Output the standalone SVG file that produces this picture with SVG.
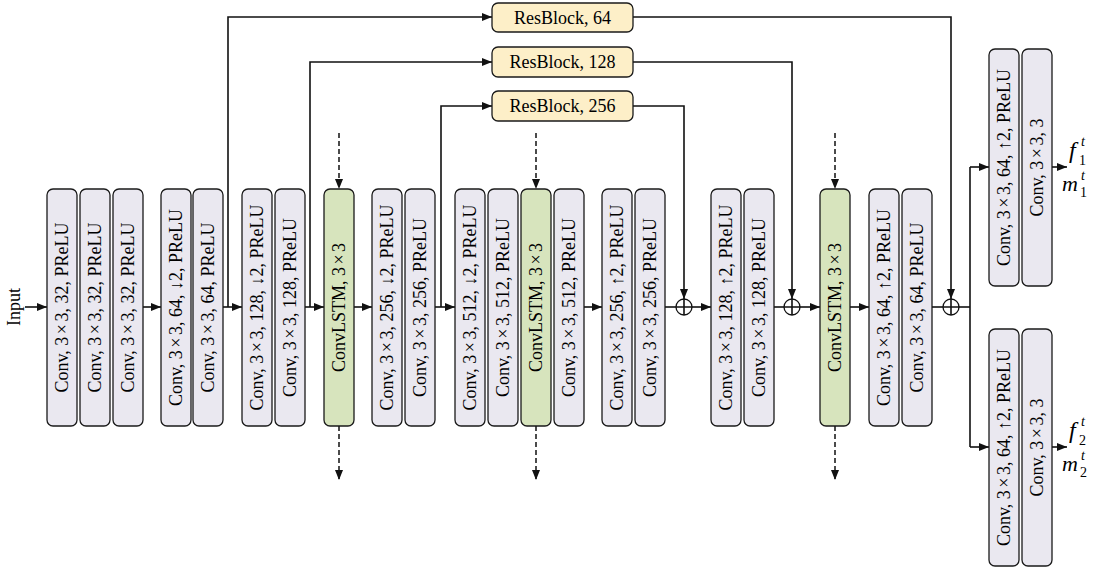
<svg xmlns="http://www.w3.org/2000/svg" width="1103" height="569" viewBox="0 0 1103 569">
<style>
.b{fill:#EAE8F0;stroke:#1a1a1a;stroke-width:1.3}
.g{fill:#D7E4BD;stroke:#1a1a1a;stroke-width:1.3}
.y{fill:#FDEFC8;stroke:#1a1a1a;stroke-width:1.3}
.t{font-family:"Liberation Serif","Times New Roman",serif;font-size:18px;fill:#000;text-anchor:middle}
.m{font-family:"Liberation Serif","Times New Roman",serif;fill:#000;font-style:italic}
.s{font-family:"Liberation Serif","Times New Roman",serif;fill:#000;font-size:14px}
.c{fill:none;stroke:#111;stroke-width:1.6}
.d{fill:none;stroke:#111;stroke-width:1.5;stroke-dasharray:5 3}
.p{fill:#fff;stroke:#111;stroke-width:1.3}
</style>
<defs>
<marker id="ah" viewBox="0 0 10 8" refX="10" refY="4" markerWidth="10" markerHeight="8" markerUnits="userSpaceOnUse" orient="auto">
<path d="M0,0 L10,4 L0,8 z" fill="#111"/>
</marker>
</defs>

<text class="t" transform="translate(20,307) rotate(-90)">Input</text>

<g id="connectors">
<path class="c" d="M25,307 H47" marker-end="url(#ah)"/>
<path class="c" d="M143,307 H161" marker-end="url(#ah)"/>
<path class="c" d="M223,307 H242" marker-end="url(#ah)"/>
<path class="c" d="M228,307 V17 H492" marker-end="url(#ah)"/>
<path class="c" d="M305,307 H324" marker-end="url(#ah)"/>
<path class="c" d="M310,307 V62 H492" marker-end="url(#ah)"/>
<path class="c" d="M354,307 H372" marker-end="url(#ah)"/>
<path class="c" d="M435,307 H455" marker-end="url(#ah)"/>
<path class="c" d="M441,307 V106 H492" marker-end="url(#ah)"/>
<path class="c" d="M584,307 H602" marker-end="url(#ah)"/>
<path class="c" d="M665,307 H676"/>
<path class="c" d="M633,106 H684 V299" marker-end="url(#ah)"/>
<path class="c" d="M692,307 H711" marker-end="url(#ah)"/>
<path class="c" d="M774,307 H784"/>
<path class="c" d="M633,62 H792 V299" marker-end="url(#ah)"/>
<path class="c" d="M800,307 H820" marker-end="url(#ah)"/>
<path class="c" d="M850,307 H869" marker-end="url(#ah)"/>
<path class="c" d="M932,307 H943"/>
<path class="c" d="M633,17 H951 V299" marker-end="url(#ah)"/>
<path class="c" d="M959,307 H970"/>
<path class="c" d="M970,167 V447"/>
<path class="c" d="M970,167 H989" marker-end="url(#ah)"/>
<path class="c" d="M970,447 H989" marker-end="url(#ah)"/>
<path class="c" d="M1052,167 H1067" marker-end="url(#ah)"/>
<path class="c" d="M1052,447 H1067" marker-end="url(#ah)"/>
<path class="d" d="M339,133 V189" marker-end="url(#ah)"/>
<path class="d" d="M339,426 V480" marker-end="url(#ah)"/>
<path class="d" d="M536,133 V189" marker-end="url(#ah)"/>
<path class="d" d="M536,426 V480" marker-end="url(#ah)"/>
<path class="d" d="M835,133 V189" marker-end="url(#ah)"/>
<path class="d" d="M835,426 V480" marker-end="url(#ah)"/>
</g>

<g id="plus1"><circle class="p" cx="684" cy="307" r="8"/><path class="c" d="M676,307 H692 M684,299 V315"/></g>
<g id="plus2"><circle class="p" cx="792" cy="307" r="8"/><path class="c" d="M784,307 H800 M792,299 V315"/></g>
<g id="plus3"><circle class="p" cx="951" cy="307" r="8"/><path class="c" d="M943,307 H959 M951,299 V315"/></g>

<g id="resblock64"><rect class="y" x="492" y="3" width="141" height="29" rx="6"/><text class="t" x="562.5" y="23.5">ResBlock, 64</text></g>
<g id="resblock128"><rect class="y" x="492" y="47" width="141" height="30" rx="6"/><text class="t" x="562.5" y="68">ResBlock, 128</text></g>
<g id="resblock256"><rect class="y" x="492" y="91" width="141" height="30" rx="6"/><text class="t" x="562.5" y="112">ResBlock, 256</text></g>

<g id="conv1"><rect class="b" x="47" y="189" width="30" height="237" rx="6"/><text class="t" transform="translate(68,307.5) rotate(-90)">Conv, 3<tspan dx="2.5">×</tspan><tspan dx="2.5">3</tspan>, 32, PReLU</text></g>
<g id="conv2"><rect class="b" x="80" y="189" width="30" height="237" rx="6"/><text class="t" transform="translate(101,307.5) rotate(-90)">Conv, 3<tspan dx="2.5">×</tspan><tspan dx="2.5">3</tspan>, 32, PReLU</text></g>
<g id="conv3"><rect class="b" x="113" y="189" width="30" height="237" rx="6"/><text class="t" transform="translate(134,307.5) rotate(-90)">Conv, 3<tspan dx="2.5">×</tspan><tspan dx="2.5">3</tspan>, 32, PReLU</text></g>

<g id="conv4"><rect class="b" x="161" y="189" width="30" height="237" rx="6"/><text class="t" transform="translate(182,307.5) rotate(-90)">Conv, 3<tspan dx="2.5">×</tspan><tspan dx="2.5">3</tspan>, 64, ↓2, PReLU</text></g>
<g id="conv5"><rect class="b" x="193" y="189" width="30" height="237" rx="6"/><text class="t" transform="translate(214,307.5) rotate(-90)">Conv, 3<tspan dx="2.5">×</tspan><tspan dx="2.5">3</tspan>, 64, PReLU</text></g>

<g id="conv6"><rect class="b" x="242" y="189" width="30" height="237" rx="6"/><text class="t" transform="translate(263,307.5) rotate(-90)">Conv, 3<tspan dx="2.5">×</tspan><tspan dx="2.5">3</tspan>, 128, ↓2, PReLU</text></g>
<g id="conv7"><rect class="b" x="275" y="189" width="30" height="237" rx="6"/><text class="t" transform="translate(296,307.5) rotate(-90)">Conv, 3<tspan dx="2.5">×</tspan><tspan dx="2.5">3</tspan>, 128, PReLU</text></g>

<g id="lstm1"><rect class="g" x="324" y="189" width="30" height="237" rx="6"/><text class="t" transform="translate(345,307.5) rotate(-90)">ConvLSTM, 3<tspan dx="2.5">×</tspan><tspan dx="2.5">3</tspan></text></g>

<g id="conv8"><rect class="b" x="372" y="189" width="30" height="237" rx="6"/><text class="t" transform="translate(393,307.5) rotate(-90)">Conv, 3<tspan dx="2.5">×</tspan><tspan dx="2.5">3</tspan>, 256, ↓2, PReLU</text></g>
<g id="conv9"><rect class="b" x="405" y="189" width="30" height="237" rx="6"/><text class="t" transform="translate(426,307.5) rotate(-90)">Conv, 3<tspan dx="2.5">×</tspan><tspan dx="2.5">3</tspan>, 256, PReLU</text></g>

<g id="conv10"><rect class="b" x="455" y="189" width="30" height="237" rx="6"/><text class="t" transform="translate(476,307.5) rotate(-90)">Conv, 3<tspan dx="2.5">×</tspan><tspan dx="2.5">3</tspan>, 512, ↓2, PReLU</text></g>
<g id="conv11"><rect class="b" x="488" y="189" width="30" height="237" rx="6"/><text class="t" transform="translate(509,307.5) rotate(-90)">Conv, 3<tspan dx="2.5">×</tspan><tspan dx="2.5">3</tspan>, 512, PReLU</text></g>
<g id="lstm2"><rect class="g" x="521" y="189" width="30" height="237" rx="6"/><text class="t" transform="translate(542,307.5) rotate(-90)">ConvLSTM, 3<tspan dx="2.5">×</tspan><tspan dx="2.5">3</tspan></text></g>
<g id="conv12"><rect class="b" x="554" y="189" width="30" height="237" rx="6"/><text class="t" transform="translate(575,307.5) rotate(-90)">Conv, 3<tspan dx="2.5">×</tspan><tspan dx="2.5">3</tspan>, 512, PReLU</text></g>

<g id="conv13"><rect class="b" x="602" y="189" width="30" height="237" rx="6"/><text class="t" transform="translate(623,307.5) rotate(-90)">Conv, 3<tspan dx="2.5">×</tspan><tspan dx="2.5">3</tspan>, 256, ↑2, PReLU</text></g>
<g id="conv14"><rect class="b" x="635" y="189" width="30" height="237" rx="6"/><text class="t" transform="translate(656,307.5) rotate(-90)">Conv, 3<tspan dx="2.5">×</tspan><tspan dx="2.5">3</tspan>, 256, PReLU</text></g>

<g id="conv15"><rect class="b" x="711" y="189" width="30" height="237" rx="6"/><text class="t" transform="translate(732,307.5) rotate(-90)">Conv, 3<tspan dx="2.5">×</tspan><tspan dx="2.5">3</tspan>, 128, ↑2, PReLU</text></g>
<g id="conv16"><rect class="b" x="744" y="189" width="30" height="237" rx="6"/><text class="t" transform="translate(765,307.5) rotate(-90)">Conv, 3<tspan dx="2.5">×</tspan><tspan dx="2.5">3</tspan>, 128, PReLU</text></g>

<g id="lstm3"><rect class="g" x="820" y="189" width="30" height="237" rx="6"/><text class="t" transform="translate(841,307.5) rotate(-90)">ConvLSTM, 3<tspan dx="2.5">×</tspan><tspan dx="2.5">3</tspan></text></g>

<g id="conv17"><rect class="b" x="869" y="189" width="30" height="237" rx="6"/><text class="t" transform="translate(890,307.5) rotate(-90)">Conv, 3<tspan dx="2.5">×</tspan><tspan dx="2.5">3</tspan>, 64, ↑2, PReLU</text></g>
<g id="conv18"><rect class="b" x="902" y="189" width="30" height="237" rx="6"/><text class="t" transform="translate(923,307.5) rotate(-90)">Conv, 3<tspan dx="2.5">×</tspan><tspan dx="2.5">3</tspan>, 64, PReLU</text></g>

<g id="head1a"><rect class="b" x="989" y="49" width="30" height="237" rx="6"/><text class="t" transform="translate(1010,167.5) rotate(-90)">Conv, 3<tspan dx="2.5">×</tspan><tspan dx="2.5">3</tspan>, 64, ↑2, PReLU</text></g>
<g id="head1b"><rect class="b" x="1022" y="49" width="30" height="237" rx="6"/><text class="t" transform="translate(1043,167.5) rotate(-90)">Conv, 3<tspan dx="2.5">×</tspan><tspan dx="2.5">3</tspan>, 3</text></g>
<g id="head2a"><rect class="b" x="989" y="329" width="30" height="237" rx="6"/><text class="t" transform="translate(1010,447.5) rotate(-90)">Conv, 3<tspan dx="2.5">×</tspan><tspan dx="2.5">3</tspan>, 64, ↑2, PReLU</text></g>
<g id="head2b"><rect class="b" x="1022" y="329" width="30" height="237" rx="6"/><text class="t" transform="translate(1043,447.5) rotate(-90)">Conv, 3<tspan dx="2.5">×</tspan><tspan dx="2.5">3</tspan>, 3</text></g>

<g id="out1">
<text class="m" x="1069" y="158" font-size="24">f</text><text class="m" x="1081" y="146" font-size="14">t</text><text class="s" x="1079" y="165">1</text>
<text class="m" x="1062" y="191" font-size="22">m</text><text class="m" x="1081" y="180" font-size="14">t</text><text class="s" x="1080" y="197">1</text>
</g>
<g id="out2">
<text class="m" x="1069" y="438" font-size="24">f</text><text class="m" x="1081" y="426" font-size="14">t</text><text class="s" x="1079" y="445">2</text>
<text class="m" x="1062" y="471" font-size="22">m</text><text class="m" x="1081" y="460" font-size="14">t</text><text class="s" x="1080" y="477">2</text>
</g>
</svg>
